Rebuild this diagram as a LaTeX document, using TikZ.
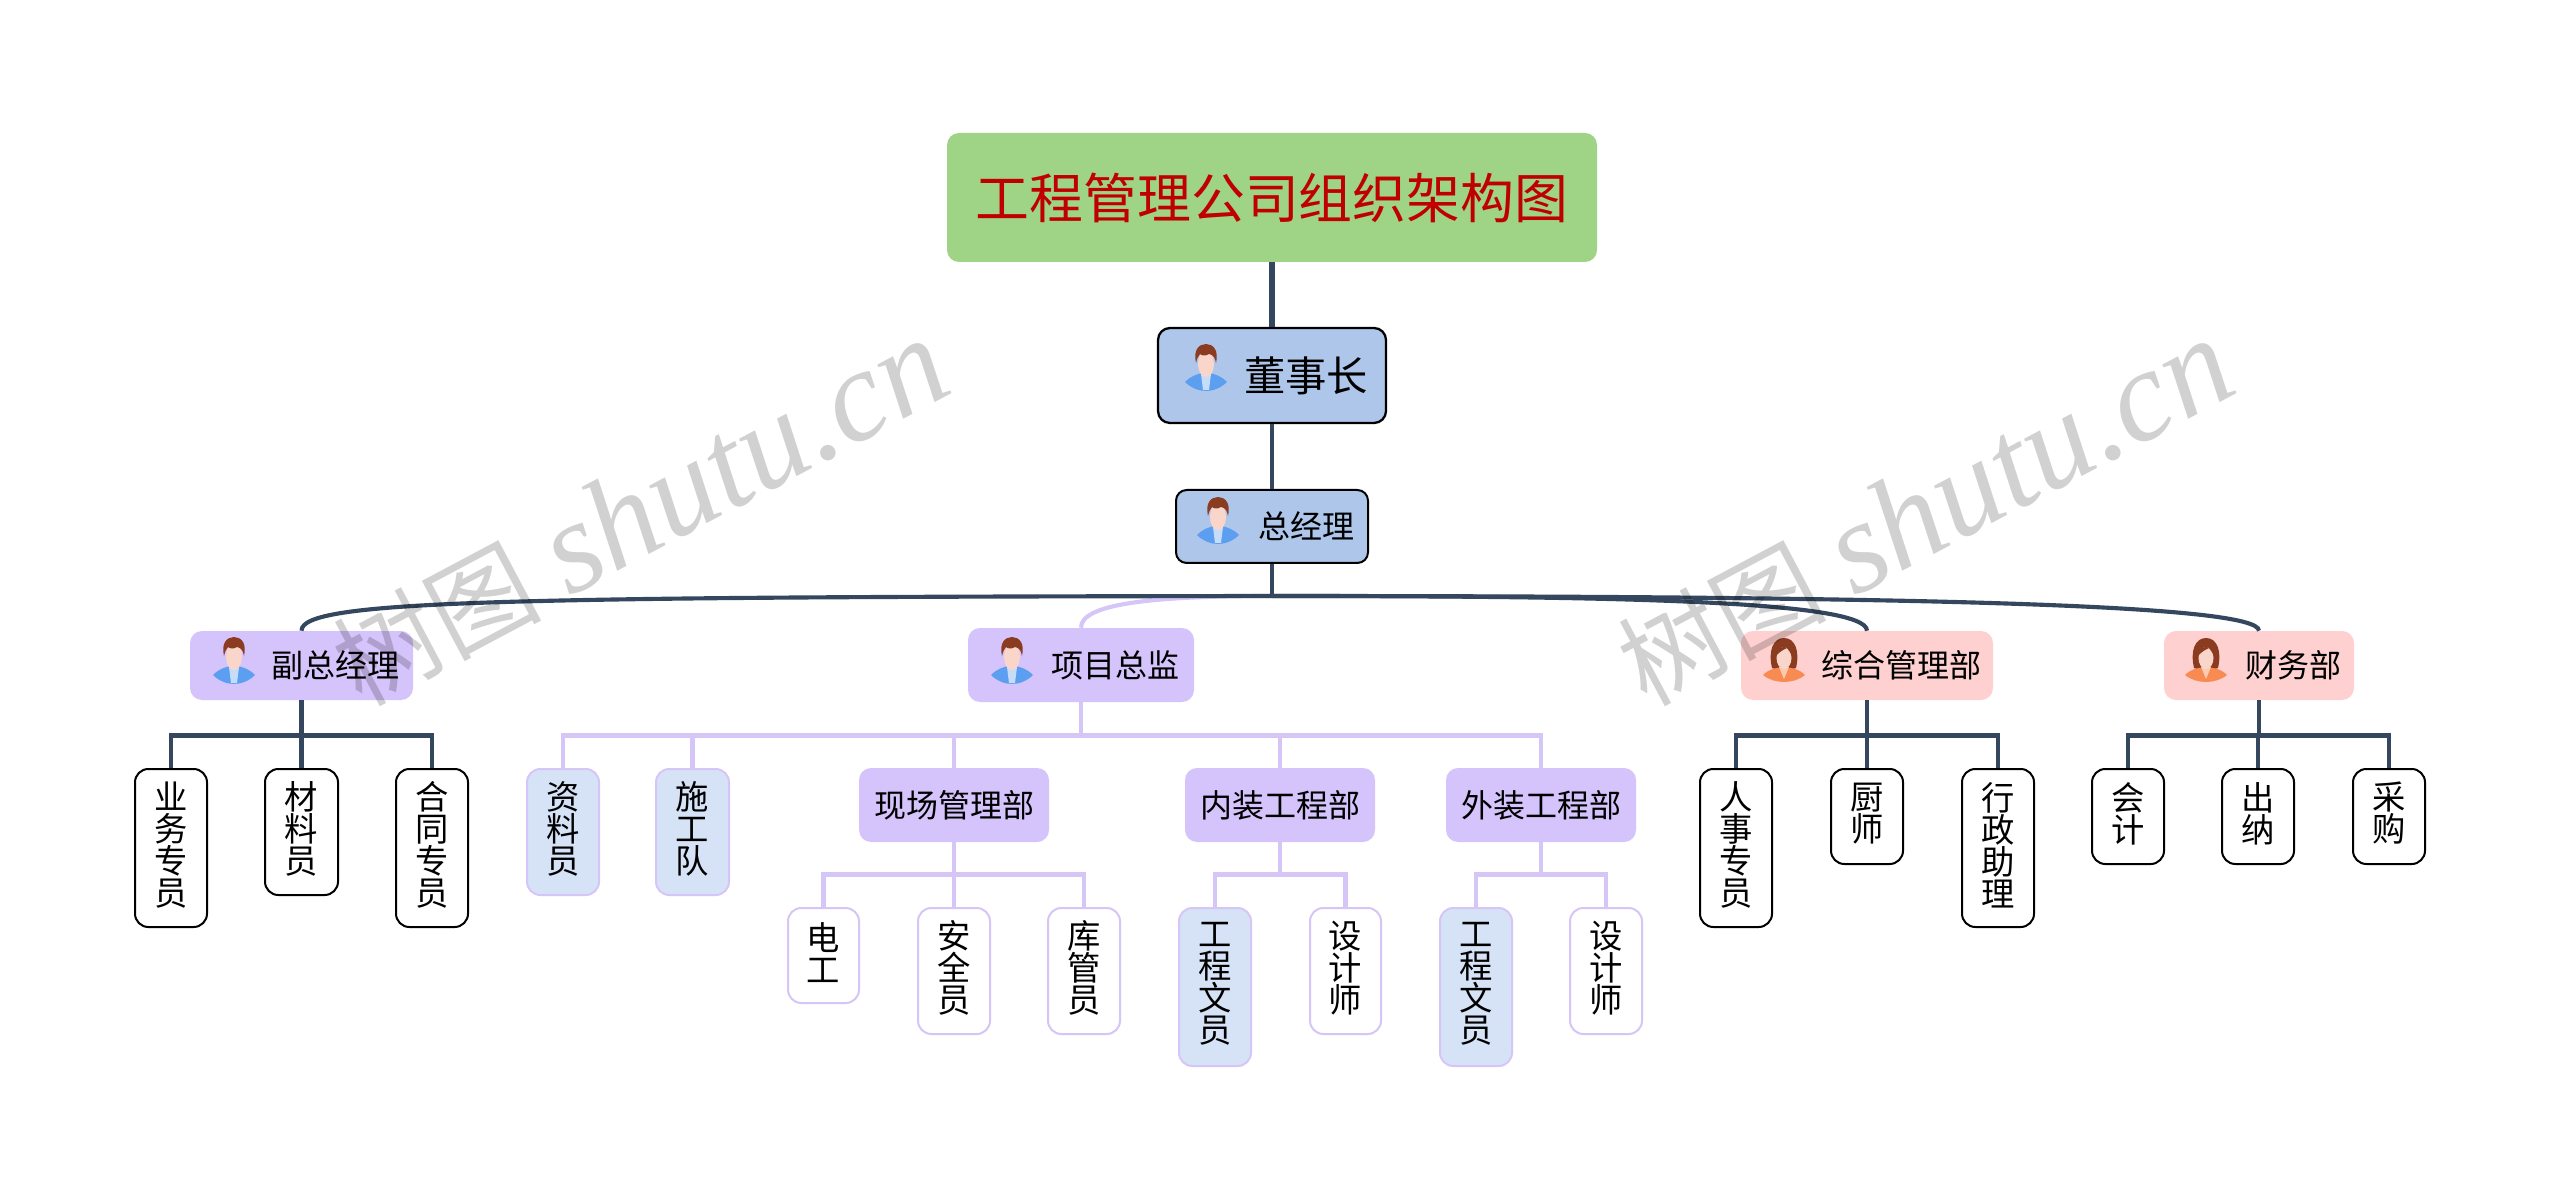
\documentclass[tikz,border=0pt]{standalone}
\usepackage{fontspec}
\setmainfont{Noto Sans CJK SC}
\newfontfamily\wmlatin{Liberation Serif}
\newfontfamily\wmcjk[AutoFakeSlant=0.2]{Noto Sans CJK SC}
\definecolor{dk}{HTML}{34475F}
\definecolor{lp}{HTML}{D6C6F8}
\definecolor{fp}{HTML}{D5C3FB}
\definecolor{fb}{HTML}{AEC6EA}
\definecolor{fr}{HTML}{FFD0D0}
\definecolor{fg}{HTML}{9FD486}
\definecolor{fl}{HTML}{D6E2F6}
\definecolor{ttl}{HTML}{C00000}
\definecolor{hairc}{HTML}{8A3B20}
\definecolor{skinc}{HTML}{FAD6CA}
\definecolor{bluec}{HTML}{5C9EEF}
\definecolor{orgc}{HTML}{F78B52}
\tikzset{
  bxbase/.style={rectangle,inner sep=0pt,align=center,font=\fontsize{24}{24}\selectfont,text=black},
  leafbase/.style={bxbase,font=\fontsize{25}{24}\selectfont},
  titlebox/.style={bxbase,fill=fg,rounded corners=9pt,text=ttl,font=\fontsize{40.4}{40}\selectfont},
  bosslg/.style={bxbase,fill=fb,draw=black,line width=1.7pt,rounded corners=9pt,font=\fontsize{31}{31}\selectfont},
  boss/.style={bxbase,fill=fb,draw=black,line width=1.5pt,rounded corners=8pt},
  violet/.style={bxbase,fill=fp,rounded corners=9pt},
  pinkbox/.style={bxbase,fill=fr,rounded corners=9pt},
  leafdk/.style={leafbase,fill=white,draw=black,line width=1.5pt,rounded corners=10pt},
  leaflt/.style={leafbase,fill=white,draw=lp,line width=1.5pt,rounded corners=10pt},
  leafbl/.style={leafbase,fill=fl,draw=lp,line width=1.5pt,rounded corners=10pt},
  dkline/.style={draw=dk,line width=3.4pt},
  ltline/.style={draw=lp,line width=3.4pt},
  dkcurve/.style={draw=dk,line width=3.1pt},
  ltcurve/.style={draw=lp,line width=3.1pt},
  wmark/.style={text=black,text opacity=0.18,rotate=28,inner sep=0pt}
}
\newcommand\bx[7]{\node[#1,minimum width={(#5-#3)*0.75pt},minimum height={(#6-#4)*0.75pt}] (#2) at ({(#3+#5)/2},{(#4+#6)/2}) {#7};}
\newcommand\vtxt[1]{\vbox{\baselineskip=24pt\lineskiplimit=-100pt\let\\\cr\halign{\hfil##\hfil\cr #1\cr}\kern4.5pt}}
\newcommand\manicon[2]{\begin{scope}[shift={(#1,#2)}]
  \fill[bluec] (-21,14) .. controls (-15,8) and (-9,6) .. (-3,5) -- (0,9) -- (3,5) .. controls (9,6) and (15,8) .. (21,14) .. controls (15,20) and (7,23) .. (0,23) .. controls (-7,23) and (-15,20) .. (-21,14) -- cycle;
  \fill[white!65!bluec] (-5,6) -- (5,6) -- (3,22) -- (-3,22) -- cycle;
  \fill[skinc] (0,-4) circle[x radius=8,y radius=13];
  \fill[hairc] (-10,-5) .. controls (-13,-18) and (-7,-24) .. (0,-24) .. controls (7,-24) and (13,-18) .. (10,-5) .. controls (9,-11) and (7,-13) .. (3,-14) .. controls (0,-12) and (-4,-12) .. (-6,-14) .. controls (-8,-12) and (-9,-9) .. (-10,-5) -- cycle;
\end{scope}}
\newcommand\womanicon[2]{\begin{scope}[shift={(#1,#2)}]
  \fill[hairc] (-12,7) .. controls (-16,-10) and (-11,-23) .. (0,-23) .. controls (11,-23) and (16,-10) .. (12,7) .. controls (8,9) and (-8,9) .. (-12,7) -- cycle;
  \fill[orgc] (-21,14) .. controls (-15,8) and (-9,7) .. (0,6) .. controls (9,7) and (15,8) .. (21,14) .. controls (15,19) and (7,21) .. (0,21) .. controls (-7,21) and (-15,19) .. (-21,14) -- cycle;
  \fill[white!55!orgc] (-5,6) -- (5,6) -- (0,18) -- cycle;
  \fill[skinc] (0,-3) circle[x radius=7.5,y radius=11];
  \fill[hairc] (-8,-5) .. controls (-5,-9) and (-1,-11) .. (3,-13) .. controls (5,-10) and (7,-8) .. (8,-5) .. controls (8,-17) and (-8,-17) .. (-8,-5) -- cycle;
\end{scope}}
\begin{document}
\begin{tikzpicture}[x=0.75pt,y=-0.75pt]
\useasboundingbox (0,0) rectangle (2560,1201);
\fill[white] (0,0) rectangle (2560,1201);
% top
\bx{titlebox}{root}{947}{133}{1597}{262}{工程管理公司组织架构图}
\bx{bosslg}{chair}{1158}{328}{1386}{423}{\hspace{51pt}董事长}
\bx{boss}{gm}{1176}{490}{1368}{563}{\hspace{51pt}总经理}
% second level
\bx{violet}{vp}{190}{631}{413}{700}{\hspace{51pt}副总经理}
\bx{violet}{pd}{968}{628}{1194}{702}{\hspace{51pt}项目总监}
\bx{pinkbox}{admin}{1741}{631}{1993}{700}{\hspace{51pt}综合管理部}
\bx{pinkbox}{fin}{2164}{631}{2354}{700}{\hspace{51pt}财务部}
% vp children
\bx{leafdk}{a1}{135}{769}{207}{927}{\vtxt{业\\务\\专\\员}}
\bx{leafdk}{a2}{265}{769}{338}{895}{\vtxt{材\\料\\员}}
\bx{leafdk}{a3}{396}{769}{468}{927}{\vtxt{合\\同\\专\\员}}
% pd children
\bx{leafbl}{b1}{527}{769}{599}{895}{\vtxt{资\\料\\员}}
\bx{leafbl}{b2}{656}{769}{729}{895}{\vtxt{施\\工\\队}}
\bx{violet}{b3}{859}{768}{1049}{842}{现场管理部}
\bx{violet}{b4}{1185}{768}{1375}{842}{内装工程部}
\bx{violet}{b5}{1446}{768}{1636}{842}{外装工程部}
\bx{leaflt}{c1}{788}{908}{859}{1003}{\vtxt{电\\工}}
\bx{leaflt}{c2}{918}{908}{990}{1034}{\vtxt{安\\全\\员}}
\bx{leaflt}{c3}{1048}{908}{1120}{1034}{\vtxt{库\\管\\员}}
\bx{leafbl}{d1}{1179}{908}{1251}{1066}{\vtxt{工\\程\\文\\员}}
\bx{leaflt}{d2}{1310}{908}{1381}{1034}{\vtxt{设\\计\\师}}
\bx{leafbl}{e1}{1440}{908}{1512}{1066}{\vtxt{工\\程\\文\\员}}
\bx{leaflt}{e2}{1570}{908}{1642}{1034}{\vtxt{设\\计\\师}}
% admin children
\bx{leafdk}{f1}{1700}{769}{1772}{927}{\vtxt{人\\事\\专\\员}}
\bx{leafdk}{f2}{1831}{769}{1903}{864}{\vtxt{厨\\师}}
\bx{leafdk}{f3}{1962}{769}{2034}{927}{\vtxt{行\\政\\助\\理}}
% fin children
\bx{leafdk}{g1}{2092}{769}{2164}{864}{\vtxt{会\\计}}
\bx{leafdk}{g2}{2222}{769}{2294}{864}{\vtxt{出\\纳}}
\bx{leafdk}{g3}{2353}{769}{2425}{864}{\vtxt{采\\购}}
% icons
\manicon{1206}{368}
\manicon{1218}{521}
\manicon{234}{661}
\manicon{1012}{661}
\womanicon{1784}{661}
\womanicon{2206}{661}
% connectors
\coordinate (hub) at (gm.south |- 0,596);
\draw[dk,line width=5pt] (root.south) -- (chair.north);
\draw[dkline] (chair.south) -- (gm.north);
\draw[ltcurve] (hub) .. controls (1150,596) and (pd.north |- 0,604) .. (pd.north);
\draw[dkline] (gm.south) -- (hub);
\draw[dkcurve] (hub) .. controls (500,597) and (vp.north |- 0,600) .. (vp.north);
\draw[dkcurve] (hub) .. controls (1600,596) and (admin.north |- 0,600) .. (admin.north);
\draw[dkcurve] (hub) .. controls (1900,596) and (fin.north |- 0,604) .. (fin.north);
\foreach \c in {a1,a2,a3} \draw[dkline] (vp.south) -- ++(0,35) -| (\c.north);
\foreach \c in {f1,f2,f3} \draw[dkline] (admin.south) -- ++(0,35) -| (\c.north);
\foreach \c in {g1,g2,g3} \draw[dkline] (fin.south) -- ++(0,35) -| (\c.north);
\foreach \c in {b1,b2,b3,b4,b5} \draw[ltline] (pd.south) -- ++(0,33) -| (\c.north);
\foreach \c in {c1,c2,c3} \draw[ltline] (b3.south) -- ++(0,32) -| (\c.north);
\foreach \c in {d1,d2} \draw[ltline] (b4.south) -- ++(0,32) -| (\c.north);
\foreach \c in {e1,e2} \draw[ltline] (b5.south) -- ++(0,32) -| (\c.north);
% watermarks
\node[wmark] (wm1) at (640,513) {{\wmcjk\fontsize{78}{78}\selectfont 树图}\hspace{20pt}{\wmlatin\itshape\fontsize{98}{98}\selectfont shutu.cn}};
\node[wmark] (wm2) at (1925,513) {{\wmcjk\fontsize{78}{78}\selectfont 树图}\hspace{20pt}{\wmlatin\itshape\fontsize{98}{98}\selectfont shutu.cn}};
\end{tikzpicture}
\end{document}
